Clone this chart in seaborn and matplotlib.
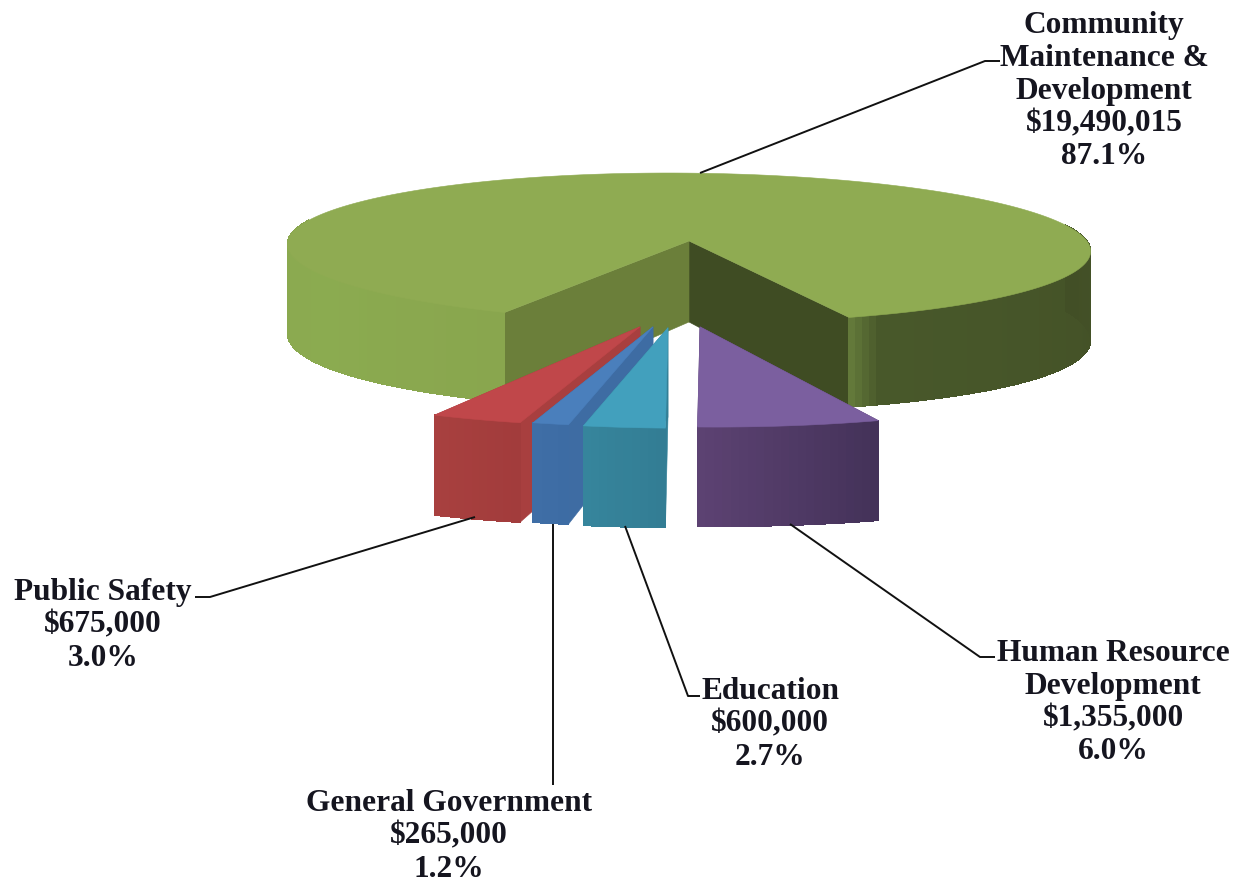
import numpy as np
import matplotlib
matplotlib.use("Agg")
import matplotlib.pyplot as plt
from matplotlib.patches import Polygon
import seaborn as sns

# Budget figures, in the order the slices run round the pie
categories = ["Community\nMaintenance &\nDevelopment", "Public Safety", "General Government",
              "Education", "Human Resource\nDevelopment"]
amounts = [19490015, 675000, 265000, 600000, 1355000]
amount_labels = ["$19,490,015", "$675,000", "$265,000", "$600,000", "$1,355,000"]
share_labels = ["87.1%", "3.0%", "1.2%", "2.7%", "6.0%"]

# Slice offsets in radii: a sideways shift on screen, and a slide toward the viewer
explode = [(0.0, 0.0), (-0.1225, 1.05), (-0.09, 1.05), (-0.0525, 1.06), (0.0275, 1.05)]

# Camera model for the pie
CX, CY, RX, RY = 689, 242, 400, 74
PERSPECTIVE, TILT = 0.09, 3.5
THICKNESS, RIM_GROWTH = 81, 0.09
START_ANGLE = 21.5

top_colors = ["#8fab52", "#c0474a", "#4a7fbc", "#42a0bd", "#7b5f9f"]
first_wall = ["#3f4c23", "#a83a3a", "#3a69a6", "#337f96", "#5c4272"]
last_wall = ["#6b7f3a", "#a83f3f", "#3e6ca3", "#337f96", "#5c4272"]
side_ramps = [None,
              ["#a8403f", "#a23c3c"],
              ["#3f6ea6", "#3d6ca4"],
              ["#36859c", "#337d94"],
              ["#5c4272", "#443259"]]

label_centers = [1104, 103, 449, 770, 1113]
label_tops = [22, 589, 800, 688, 650]
LINE_STEP = 32.8

leaders = [([700, 985, 1000], [174, 62, 62]),
           ([475, 210, 195], [518, 598, 598]),
           ([553, 553], [525, 786]),
           ([625, 688, 700], [527, 697, 697]),
           ([790, 980, 995], [525, 658, 658])]


def project(u, v, shift=0.0, lower=False):
    """Map plane coordinates of the pie to figure pixels."""
    u, v = np.asarray(u, float), np.asarray(v, float)
    s = 1.0 / (1.0 - PERSPECTIVE * v)
    x = CX + RX * (u * s + shift)
    y = CY + RY * v * s + TILT * u
    if lower:
        y = y + THICKNESS * s * (1.0 + RIM_GROWTH * u * u)
    return x, y


def add_face(ax, x, y, color, smooth=True):
    ax.add_patch(Polygon(np.column_stack([x, y]), closed=True, facecolor=color,
                         edgecolor=color, linewidth=0.4, antialiased=smooth))


sns.set_theme(style="white")
plt.rcParams["font.family"] = ["Liberation Serif", "DejaVu Serif"]

fig = plt.figure(figsize=(12.36, 8.78), dpi=100, facecolor="white")
ax = fig.add_axes([0, 0, 1, 1])
ax.set_xlim(0, 1236)
ax.set_ylim(878, 0)
ax.axis("off")

sweeps = 360.0 * np.array(amounts) / np.sum(amounts)
edges = START_ANGLE + np.concatenate([[0.0], np.cumsum(sweeps)])

for i in range(len(amounts)):
    theta = np.radians(np.linspace(edges[i], edges[i + 1], max(int(sweeps[i]) + 2, 8)))
    ox, oy = explode[i]
    u = np.sin(theta)
    v = oy + np.cos(theta)

    # Cut faces go down first so the rim and the top can cover them
    for end, color in ((0, first_wall[i]), (-1, last_wall[i])):
        xt, yt = project([0.0, u[end]], [oy, v[end]], ox)
        xb, yb = project([0.0, u[end]], [oy, v[end]], ox, lower=True)
        add_face(ax, [xt[0], xt[1], xb[1], xb[0]], [yt[0], yt[1], yb[1], yb[0]], color)

    # Rim, shaded facet by facet
    n = len(theta) - 1
    if i == 0:
        ramp = (sns.blend_palette(["#63793a", "#48582a"], 5)
                + sns.blend_palette(["#48582a", "#3f4a24", "#8aa84f"], 240)
                + sns.blend_palette(["#8aa84f", "#8bab50", "#89a64e"], max(n - 245, 2)))
    else:
        ramp = sns.blend_palette(side_ramps[i], n)
    xt, yt = project(u, v, ox)
    xb, yb = project(u, v, ox, lower=True)
    for j in range(n):
        if v[j] > oy - 0.25:
            c = ramp[min(j, len(ramp) - 1)]
            add_face(ax, [xt[j], xt[j + 1], xb[j + 1], xb[j]],
                     [yt[j], yt[j + 1], yb[j + 1], yb[j]], c, smooth=False)

    # Top surface
    ax_, ay_ = project(0.0, oy, ox)
    add_face(ax, np.r_[ax_, xt], np.r_[ay_, yt], top_colors[i])

for xs, ys in leaders:
    ax.plot(xs, ys, color="#111111", linewidth=1.4, solid_capstyle="butt")

for name, amount, share, cx, top in zip(categories, amount_labels, share_labels,
                                        label_centers, label_tops):
    lines = name.split("\n") + [amount, share]
    for k, line in enumerate(lines):
        ax.text(cx, top + k * LINE_STEP, line, ha="center", va="center_baseline", fontsize=22.6,
                fontweight="bold", color="#15151f")

fig.savefig("out.png", dpi=100, facecolor="white")
